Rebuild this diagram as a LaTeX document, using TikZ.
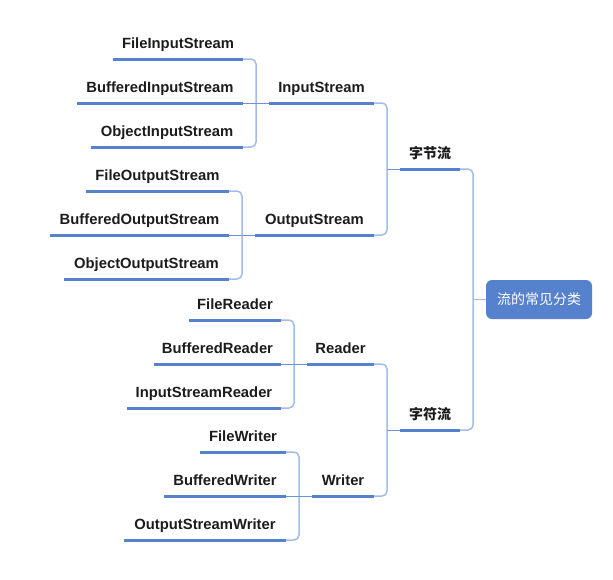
\documentclass[tikz,border=0pt]{standalone}
\usepackage{fontspec}
\setmainfont{Liberation Sans}
\newfontfamily\cjk{Noto Sans CJK SC}
\usetikzlibrary{calc}
\definecolor{ulblue}{HTML}{5681CC}
\definecolor{brblue}{HTML}{A2BDE9}
\definecolor{cnblue}{HTML}{6E93D3}
\definecolor{txt}{HTML}{1C1C1C}
\tikzset{
  lbl/.style={anchor=south, inner xsep=0pt, inner ysep=10pt, text depth=0pt,
    font=\fontsize{14.8}{16}\selectfont\bfseries, text=txt},
  cjklbl/.style={lbl, font=\fontsize{14}{16}\selectfont\cjk\bfseries},
  ul/.style={draw=ulblue, line width=3pt},
  br/.style={draw=brblue, line width=1.5pt, rounded corners=5pt},
  cn/.style={draw=cnblue, line width=1pt},
  rootbox/.style={fill=ulblue, rounded corners=6pt, minimum width=106pt,
    minimum height=39pt, inner sep=0pt, text=white,
    font=\fontsize{14}{16}\selectfont\cjk}
}
\begin{document}
\begin{tikzpicture}[x=1pt,y=-1pt]
\useasboundingbox (0,0) rectangle (613,579);
% byte streams - input
\node[lbl, minimum width=130] (fis) at (178,59) {FileInputStream};
\node[lbl, minimum width=166] (bis) at (160,103) {BufferedInputStream};
\node[lbl, minimum width=152] (ois) at (167,147) {ObjectInputStream};
\node[lbl, minimum width=105] (is) at (321.5,103) {InputStream};
% byte streams - output
\node[lbl, minimum width=143] (fos) at (157.5,191) {FileOutputStream};
\node[lbl, minimum width=179] (bos) at (139.5,235) {BufferedOutputStream};
\node[lbl, minimum width=165] (oos) at (146.5,279) {ObjectOutputStream};
\node[lbl, minimum width=119] (os) at (314.5,235) {OutputStream};
\node[cjklbl, minimum width=60] (bytes) at (430,169) {字节流};
% character streams - reader
\node[lbl, minimum width=92] (fr) at (235,320) {FileReader};
\node[lbl, minimum width=127] (brd) at (217.5,364) {BufferedReader};
\node[lbl, minimum width=154] (isr) at (204,408) {InputStreamReader};
\node[lbl, minimum width=67] (rd) at (340.5,364) {Reader};
% character streams - writer
\node[lbl, minimum width=86] (fw) at (243,452) {FileWriter};
\node[lbl, minimum width=122] (bw) at (225,496) {BufferedWriter};
\node[lbl, minimum width=162] (osw) at (205,540) {OutputStreamWriter};
\node[lbl, minimum width=62] (wr) at (343,496) {Writer};
\node[cjklbl, minimum width=60] (chars) at (430,430) {字符流};
% root
\node[rootbox] (root) at (539,299.5) {流的常见分类};

% underlines
\foreach \n in {fis,bis,ois,is,fos,bos,oos,os,bytes,fr,brd,isr,rd,fw,bw,osw,wr,chars}
  \draw[ul] (\n.south west) -- (\n.south east);

% bracket joints
\coordinate (jis) at ($(bis.south east)!0.5!(is.south west)$);
\coordinate (jos) at ($(bos.south east)!0.5!(os.south west)$);
\coordinate (jrd) at ($(brd.south east)!0.5!(rd.south west)$);
\coordinate (jwr) at ($(bw.south east)!0.5!(wr.south west)$);
\coordinate (jby) at ($(is.south east)!0.5!(bytes.south west)$);
\coordinate (jch) at ($(rd.south east)!0.5!(chars.south west)$);
\coordinate (jrt) at ($(bytes.south east)!0.5!(root.west)$);

% brackets
\draw[br] (fis.south east) -| (jis) |- (ois.south east);
\draw[br] (fos.south east) -| (jos) |- (oos.south east);
\draw[br] (fr.south east) -| (jrd) |- (isr.south east);
\draw[br] (fw.south east) -| (jwr) |- (osw.south east);
\draw[br] (is.south east) -| (jby) |- (os.south east);
\draw[br] (rd.south east) -| (jch) |- (wr.south east);
\draw[br] (bytes.south east) -| (jrt) |- (chars.south east);

% connectors to parents
\draw[cn] (bis.south east) -- (is.south west);
\draw[cn] (bos.south east) -- (os.south west);
\draw[cn] (brd.south east) -- (rd.south west);
\draw[cn] (bw.south east) -- (wr.south west);
\draw[cn] (jby |- bytes.south west) -- (bytes.south west);
\draw[cn] (jch |- chars.south west) -- (chars.south west);
\draw[br, rounded corners=0pt] (jrt |- root.west) -- (root.west);
\end{tikzpicture}
\end{document}
